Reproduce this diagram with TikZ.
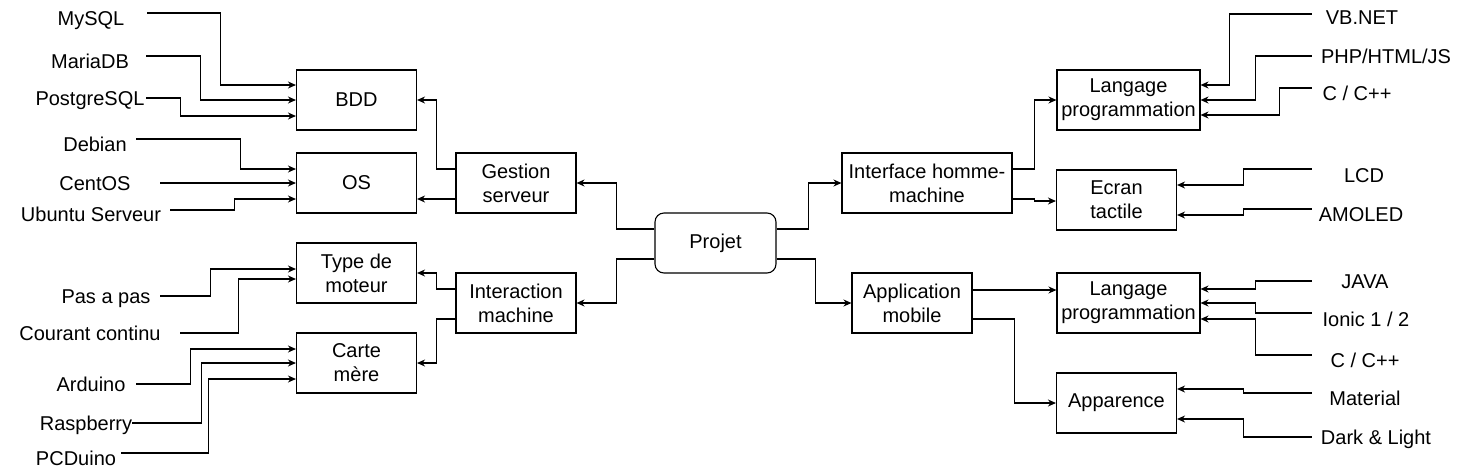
\documentclass[tikz,border=0pt]{standalone}
\usepackage{fontspec}
\setmainfont{Liberation Sans}
\usetikzlibrary{arrows.meta}
\tikzset{
  box/.style={draw,line width=1.1pt,minimum height=60,minimum width=#1,inner sep=0pt,align=center},
  box/.default=120,
  root/.style={box=121,rounded corners=9pt},
  leaf/.style={minimum width=#1,inner sep=0pt,text height=18.5pt,text depth=4pt},
  link/.style={line width=1.1pt,-{Stealth[length=8pt,width=7pt]}}
}

\begin{document}
\begin{tikzpicture}[x=1pt,y=-1pt,font=\fontsize{20}{24}\selectfont]
    \useasboundingbox (0,0) rectangle (1461,469);

    % — Central node and first level
    \node[root] (projet) at (715.5,243) {Projet};
    \node[box] (gestion) at (516,183) {Gestion\\serveur};
    \node[box] (interaction) at (516,303) {Interaction\\machine};
    \node[box=170] (ihm) at (927,183) {Interface homme-\\machine};
    \node[box] (appli) at (912,303) {Application\\mobile};

    % — Second level, left
    \node[box] (bdd) at (356.5,100) {BDD};
    \node[box] (os) at (356.5,183) {OS};
    \node[box] (moteur) at (356.5,273) {Type de\\moteur};
    \node[box] (carte) at (356.5,363) {Carte\\mère};

    % — Second level, right
    \node[box=143] (langA) at (1128.5,100) {Langage\\programmation};
    \node[box] (ecran) at (1116.5,200) {Ecran\\tactile};
    \node[box=143] (langB) at (1128.5,303) {Langage\\programmation};
    \node[box] (apparence) at (1116.5,403) {Apparence};

    % — Leaves, left
    \node[leaf=112] (mysql) at (91,18) {MySQL};
    \node[leaf=112] (mariadb) at (90,61) {MariaDB};
    \node[leaf=112] (postgres) at (90,98) {PostgreSQL};
    \node[leaf=82] (debian) at (95,144) {Debian};
    \node[leaf=130] (centos) at (95,183) {CentOS};
    \node[leaf=158] (ubuntu) at (91,214) {Ubuntu Serveur};
    \node[leaf=108] (paspas) at (106,296) {Pas a pas};
    \node[leaf=180] (courant) at (90,333) {Courant continu};
    \node[leaf=90] (arduino) at (91,384) {Arduino};
    \node[leaf=90] (raspberry) at (86,423) {Raspberry};
    \node[leaf=90] (pcduino) at (76,458) {PCDuino};

    % — Leaves, right
    \node[leaf=100] (vbnet) at (1362,17) {VB.NET};
    \node[leaf=148] (php) at (1386,56) {PHP/HTML/JS};
    \node[leaf=90] (cppA) at (1357,93) {C / C++};
    \node[leaf=104] (lcd) at (1364,175) {LCD};
    \node[leaf=98] (amoled) at (1361,214) {AMOLED};
    \node[leaf=106] (java) at (1365,281) {JAVA};
    \node[leaf=108] (ionic) at (1366,319) {Ionic 1 / 2};
    \node[leaf=106] (cppB) at (1365,360) {C / C++};
    \node[leaf=106] (material) at (1365,398) {Material};
    \node[leaf=128] (dark) at (1376,437) {Dark \& Light};

    % — Projet to first level
    \draw[link] ([yshift=14]projet.west) -- ++(-38,0) |- (gestion.east);
    \draw[link] ([yshift=-16]projet.west) -- ++(-38,0) |- (interaction.east);
    \draw[link] ([yshift=14]projet.east) -- ++(32,0) |- (ihm.west);
    \draw[link] ([yshift=-16]projet.east) -- ++(39,0) |- (appli.west);

    % — First level to second level
    \draw[link] ([yshift=14]gestion.west) -- ++(-19,0) |- (bdd.east);
    \draw[link] ([yshift=-16]gestion.west) -- ([yshift=-16]os.east);
    \draw[link] ([yshift=14]interaction.west) -- ++(-19,0) |- (moteur.east);
    \draw[link] ([yshift=-16]interaction.west) -- ++(-19,0) |- (carte.east);
    \draw[link] ([yshift=14]ihm.east) -- ++(22,0) |- (langA.west);
    \draw[link] ([yshift=-16]ihm.east) -- ++(22,0) |- ([yshift=-1]ecran.west);
    \draw[link] ([yshift=13]appli.east) -- ([yshift=13]langB.west);
    \draw[link] ([yshift=-16]appli.east) -- ++(42,0) |- (apparence.west);

    % — Leaves into left boxes
    \draw[link] ([yshift=5]mysql.east) -- ++(73,0) |- ([yshift=15]bdd.west);
    \draw[link] ([yshift=5]mariadb.east) -- ++(54,0) |- (bdd.west);
    \draw[link] (postgres.east) -- ++(34,0) |- ([yshift=-16]bdd.west);
    \draw[link] ([yshift=5]debian.east) -- ++(104,0) |- ([yshift=14]os.west);
    \draw[link] (centos.east) -- (os.west);
    \draw[link] ([yshift=4]ubuntu.east) -- ++(64,0) |- ([yshift=-16]os.west);
    \draw[link] (paspas.east) -- ++(50,0) |- ([yshift=4]moteur.west);
    \draw[link] (courant.east) -- ++(58,0) |- ([yshift=-6]moteur.west);
    \draw[link] (arduino.east) -- ++(54,0) |- ([yshift=14]carte.west);
    \draw[link] (raspberry.east) -- ++(69,0) |- (carte.west);
    \draw[link] ([yshift=5]pcduino.east) -- ++(87,0) |- ([yshift=-16]carte.west);

    % — Leaves into right boxes
    \draw[link] ([yshift=3]vbnet.west) -- ++(-82,0) |- ([yshift=15]langA.east);
    \draw[link] (php.west) -- ++(-56,0) |- (langA.east);
    \draw[link] ([yshift=5]cppA.west) -- ++(-32,0) |- ([yshift=-15]langA.east);
    \draw[link] ([yshift=6]lcd.west) -- ++(-68,0) |- ([yshift=15]ecran.east);
    \draw[link] ([yshift=5]amoled.west) -- ++(-68,0) |- ([yshift=-15]ecran.east);
    \draw[link] (java.west) -- ++(-56,0) |- ([yshift=14]langB.east);
    \draw[link] ([yshift=6]ionic.west) -- ++(-56,0) |- (langB.east);
    \draw[link] ([yshift=5]cppB.west) -- ++(-56,0) |- ([yshift=-16]langB.east);
    \draw[link] ([yshift=5]material.west) -- ++(-68,0) |- ([yshift=14]apparence.east);
    \draw[link] (dark.west) -- ++(-68,0) |- ([yshift=-16]apparence.east);
\end{tikzpicture}
\end{document}
